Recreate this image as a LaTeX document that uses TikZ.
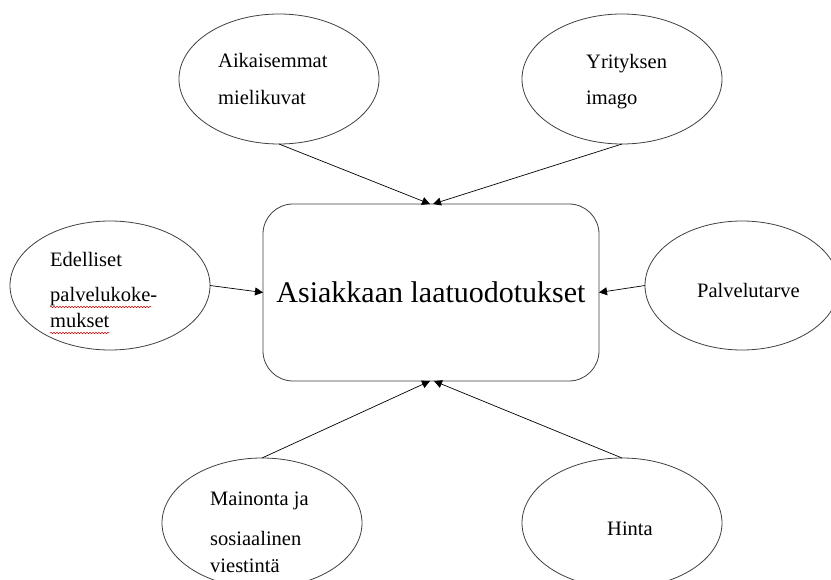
\documentclass[tikz,border=0pt]{standalone}
\usepackage{fontspec}
\setmainfont{Liberation Serif}
\usetikzlibrary{shapes.geometric,arrows.meta,decorations.pathmorphing}
\begin{document}
\begin{tikzpicture}[x=1pt,y=-1pt,
  oval/.style={ellipse,draw=black!75,line width=0.8pt,minimum width=200pt,minimum height=130pt,inner sep=0pt,outer sep=0pt},
  lbl/.style={anchor=base west,inner sep=0pt,font=\fontsize{20.5}{24}\selectfont},
  conn/.style={line width=0.7pt,-{Triangle[length=8pt,width=8pt]}},
  squig/.style={red!80!black,line width=0.5pt,decorate,decoration={snake,amplitude=0.7pt,segment length=3pt}}]
\useasboundingbox (0,0) rectangle (831,580);
\clip (0,0) rectangle (831,580);
\fill[white] (0,0) rectangle (831,580);
% central box
\node[draw=black!75,line width=0.8pt,rounded corners=30pt,minimum width=336pt,minimum height=177pt,inner sep=0pt,outer sep=0pt] (box) at (431,292.5) {};
\node[anchor=base,inner sep=0pt,font=\fontsize{30}{36}\selectfont] (title) at (431,303) {Asiakkaan laatuodotukset};
% ellipses
\node[oval] (e1) at (279,79) {};
\node[oval] (e2) at (622,79) {};
\node[oval,minimum height=129pt] (e3) at (110,285.5) {};
\node[oval,minimum width=194pt,minimum height=129pt] (e4) at (742,285.5) {};
\node[oval] (e5) at (262,523) {};
\node[oval] (e6) at (622,523) {};
% texts
\node[lbl] (t1a) at (218,68) {Aikaisemmat};
\node[lbl] (t1b) at (218,105) {mielikuvat};
\node[lbl] (t2a) at (586,69) {Yrityksen};
\node[lbl] (t2b) at (586,105) {imago};
\node[lbl] (t3a) at (50,267) {Edelliset};
\node[lbl] (t3b) at (50,302) {palvelukoke-};
\node[lbl] (t3c) at (50,328) {mukset};
\node[lbl] (t4a) at (697,298) {Palvelutarve};
\node[lbl] (t5a) at (210,505) {Mainonta ja};
\node[lbl] (t5b) at (210,545) {sosiaalinen};
\node[lbl] (t5c) at (210,572) {viestintä};
\node[lbl] (t6) at (607,535) {Hinta};
% spelling marks
\draw[squig] ([yshift=-5pt]t3b.base west) -- ([yshift=-5pt,xshift=-6pt]t3b.base east);
\draw[squig] ([yshift=-5pt]t3c.base west) -- ([yshift=-5pt]t3c.base east);
% connectors
\draw[conn] (e1.south) -- ([xshift=-1pt]box.north);
\draw[conn] (e2.south) -- ([xshift=2pt]box.north);
\draw[conn] (e3.east) -- (box.west);
\draw[conn] (e4.west) -- (box.east);
\draw[conn] (e5.north) -- ([xshift=-1pt]box.south);
\draw[conn] (e6.north) -- ([xshift=3pt]box.south);
\end{tikzpicture}
\end{document}
